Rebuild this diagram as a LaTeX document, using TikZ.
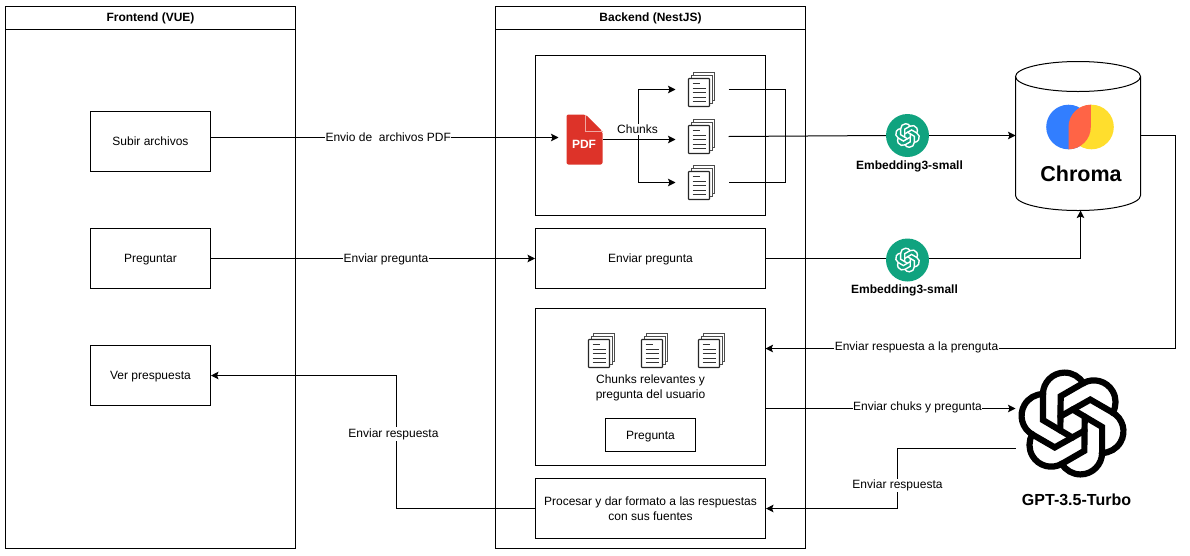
\documentclass[tikz,border=0pt]{standalone}
\usepackage{fontspec}
\setmainfont{Liberation Sans}
\usetikzlibrary{arrows.meta,calc}
\definecolor{oaigreen}{HTML}{10A37F}
\definecolor{pdfred}{HTML}{DD3329}
\definecolor{pdffold}{HTML}{F0A8A2}
\definecolor{chblue}{HTML}{327EFF}
\definecolor{chyellow}{HTML}{FFDE2D}
\definecolor{chred}{HTML}{FF6446}
\tikzset{
  txt/.style={font=\fontsize{12}{15}\selectfont,align=center,inner sep=0pt},
  boldtxt/.style={font=\fontsize{12}{14}\selectfont\bfseries,align=center,inner sep=0pt},
  boxed/.style={draw=black,line width=1pt,fill=white,inner sep=0pt,font=\fontsize{12}{15}\selectfont,align=center,text depth=0pt},
  ghost/.style={inner sep=0pt,outer sep=0pt},
  conn/.style={draw=black,line width=1pt},
  arr/.style={conn,-{Stealth[length=7.5pt,width=7.5pt,inset=1.5pt]}},
  lab/.style={txt,fill=white,inner xsep=0.5pt,inner ysep=1pt},
}
% page-stack icon: #1 name, #2 x of left, #3 y of top
\newcommand{\docpic}[3]{%
  \node[ghost,minimum width=26pt,minimum height=34pt] (#1) at (#2+13,#3+17) {};
  \begin{scope}[shift={(#2,#3)}]
    \draw[draw=black!70,fill=white,line width=1pt] (5,0) rectangle (26,28);
    \draw[draw=black!70,fill=white,line width=1pt] (2.5,3) rectangle (23.5,31);
    \draw[draw=black!85,fill=white,line width=1.1pt,rounded corners=0.6pt] (0,6) rectangle (21,34);
    \draw[black!80,line width=1pt] (4,11)--(11,11) (4,15.5)--(17,15.5) (4,20)--(17,20) (4,24.5)--(17,24.5) (4,29)--(17,29);
  \end{scope}}
% knot logo: #1 cx, #2 cy, #3 scale, #4 colour, #5 width
\newcommand{\oailogo}[5]{%
  \foreach \a in {0,60,...,300}{
    \begin{scope}[shift={(#1,#2)},x=1pt,y=1pt,scale=#3,rotate=\a]
      \draw[draw=#4,line width=#5,line cap=round,line join=miter]
        (0,-41) -- (-86,10) -- (-86,85) arc[start angle=180,end angle=30,radius=63pt];
    \end{scope}}}
\begin{document}
\begin{tikzpicture}[x=1pt,y=-1pt]
\useasboundingbox (-0.5,-0.5) rectangle (1189.5,554.5);
\fill[white] (-0.5,-0.5) rectangle (1189.5,554.5);

% swimlanes
\node[boxed,minimum width=290pt,minimum height=542pt] (front) at (150,277) {};
\node[boldtxt] (frontT) at (150,18) {Frontend (VUE)};
\draw[conn] (5,29) -- (295,29);
\node[boxed,minimum width=310pt,minimum height=542pt] (back) at (650,277) {};
\node[boldtxt] (backT) at (650,18) {Backend (NestJS)};
\draw[conn] (495,29) -- (805,29);

% frontend boxes
\node[boxed,minimum width=120pt,minimum height=60pt] (subir) at (150,141) {Subir archivos};
\node[boxed,minimum width=120pt,minimum height=60pt] (preg) at (150,258) {Preguntar};
\node[boxed,minimum width=120pt,minimum height=60pt] (ver) at (150,375) {Ver prespuesta};

% backend boxes
\node[boxed,minimum width=230pt,minimum height=160pt] (chunkbox) at (650,135) {};
\node[boxed,minimum width=230pt,minimum height=60pt] (envp) at (650,258) {Enviar pregunta};
\node[boxed,minimum width=230pt,minimum height=157pt] (relbox) at (650,386.5) {};
\node[boxed,minimum width=90pt,minimum height=33pt] (pregunta) at (650,434.5) {Pregunta};
\node[boxed,minimum width=230pt,minimum height=60pt] (proc) at (650,508) {Procesar y dar formato a las respuestas\\con sus fuentes};
\node[txt] (reltxt) at (650,387) {Chunks relevantes y\\pregunta del usuario};

% PDF icon
\node[ghost,minimum width=36pt,minimum height=50pt] (pdf) at (584,139) {};
\fill[pdfred,rounded corners=2pt] (566,114) -- (585,114) -- (602,131) -- (602,164) -- (566,164) -- cycle;
\draw[pdffold,line width=0.9pt] (585,114) -- (585,131) -- (602,131);
\node[ghost,text=white,font=\fontsize{12}{14}\selectfont\bfseries] (pdfT) at (583.5,144) {PDF};

% page stacks
\docpic{d1}{688}{72}
\docpic{d2}{688}{119}
\docpic{d3}{688}{165}
\docpic{r1}{588}{333}
\docpic{r2}{641}{333}
\docpic{r3}{698}{333}

% embedding logos
\node[circle,fill=oaigreen,minimum size=43pt,inner sep=0pt] (e1) at (907,135) {};
\oailogo{907}{135}{0.0797}{white}{1.4pt}
\node[circle,fill=oaigreen,minimum size=43pt,inner sep=0pt] (e2) at (907,259.5) {};
\oailogo{907}{259.5}{0.0797}{white}{1.4pt}
\node[boldtxt] (e1T) at (909,166) {Embedding3-small};
\node[boldtxt] (e2T) at (904,290) {Embedding3-small};

% Chroma cylinder
\node[ghost,minimum width=125pt,minimum height=149pt] (chroma) at (1077.5,135) {};
\draw[conn,fill=white] (1015,76) -- (1015,195) arc[start angle=180,end angle=360,x radius=62.5pt,y radius=15pt] -- (1140,76);
\draw[conn] (1077.5,76) ellipse [x radius=62.5pt,y radius=15pt];
\fill[chblue] (1068,126.5) circle (22.3pt);
\fill[chyellow] (1091,126.5) circle (22.3pt);
\fill[chred] (1090.3,104.2) arc[start angle=90,end angle=180,radius=22.3pt] -- (1068,148.8) arc[start angle=-90,end angle=0,radius=22.3pt] -- cycle;
\node[ghost,font=\fontsize{21.5}{26}\selectfont\bfseries] (chromaT) at (1080.5,173) {Chroma};

% GPT logo
\node[ghost,minimum width=108pt,minimum height=108pt] (gpt) at (1072,423) {};
\oailogo{1072}{423}{0.344}{black}{6.2pt}
\node[ghost,font=\fontsize{16}{19}\selectfont\bfseries] (gptT) at (1076,499) {GPT-3.5-Turbo};

% free ends
\coordinate (pdfin) at (558,137);
\coordinate (branch) at (638,139);
\coordinate (cbot) at (1080,210);
\coordinate (cr) at (1175,135);
\coordinate (gin) at (1015,408);
\coordinate (gout) at (1015,448);
\coordinate (bus) at (785,182);
\coordinate (backturn) at (396,508);
\coordinate (gptturn) at (897,508);
\coordinate (chin) at (765,348);

% connectors
\draw[arr] (subir.east |- pdfin) -- node[lab,pos=0.51] (l1) {Envio de\ \ archivos PDF} (pdfin);
\draw[arr] (pdf.east) -- ($(pdf.east)+(73,0)$);
\draw[arr] (branch) |- ($(d1.west)+(-13,0)$);
\draw[arr] (branch) |- ($(d3.west)+(-13,0)$);
\node[txt,fill=white,inner xsep=1pt,inner ysep=1.5pt] (chk) at (637,129) {Chunks};
\draw[conn] ($(d1.east)+(14,0)$) -| (bus) -- ($(d3.east)+(14,0)$);
\draw[conn] ($(d2.east)+(14,0)$ |- e1.west) -- (e1.west);
\draw[arr] (e1.east) -- (chroma.west);
\draw[conn] (envp.east) -- (envp.east -| e2.west);
\draw[arr] (envp.east -| e2.east) -| (cbot);
\draw[arr] (preg.east) -- node[lab,pos=0.54,text depth=0pt] (l2) {Enviar pregunta} (envp.west);
\draw[arr] (chroma.east) -| (cr) |- (chin);
\node[lab] (l3) at (916,347) {Enviar respuesta a la prenguta};
\draw[arr] (relbox.east |- gin) -- (gin);
\node[lab] (l4) at (917,407) {Enviar chuks y pregunta};
\draw[arr] (gout) -| (gptturn) -- (proc.east);
\node[lab] (l5) at (897,485) {Enviar respuesta};
\draw[arr] (proc.west) -- (backturn) |- (ver.east);
\node[lab] (l6) at (393,433.5) {Enviar respuesta};
\end{tikzpicture}
\end{document}
